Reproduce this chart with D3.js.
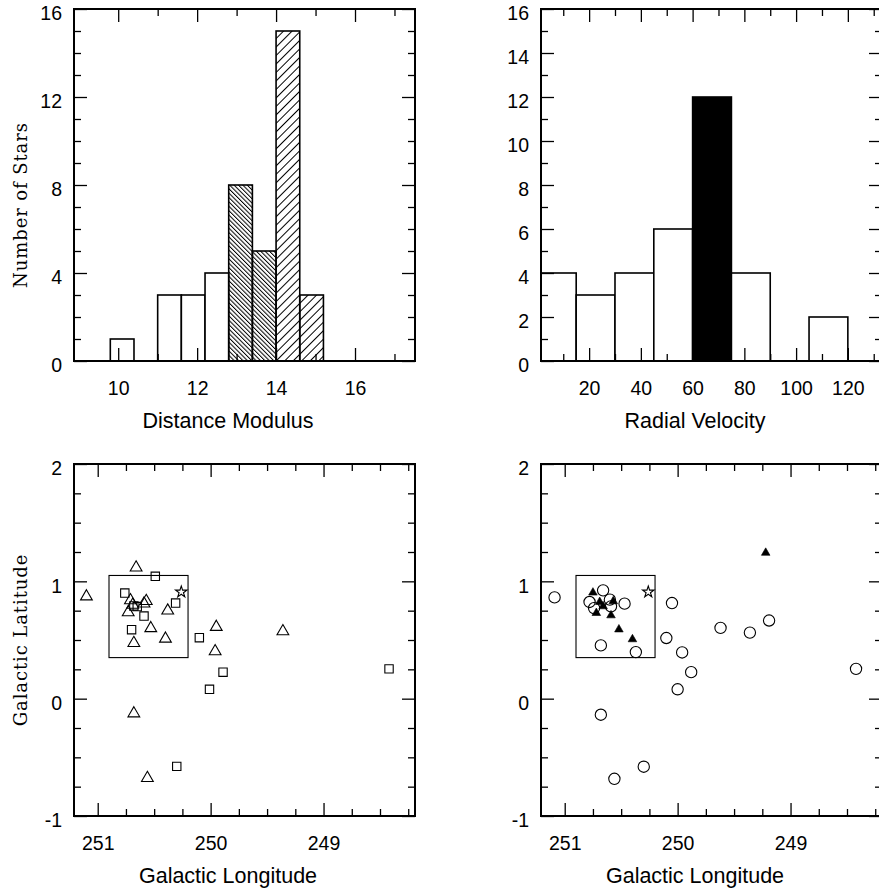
<!DOCTYPE html>
<html>
<head>
<meta charset="utf-8">
<script src="https://cdn.jsdelivr.net/npm/d3@7"></script>
<style>
  body { margin: 0; background: #fff; }
  svg { display: block; }
  .tick text { font-family: "Liberation Sans", Arial, sans-serif; font-size: 19.5px; fill: #000; }
  .tick line { stroke: #000; stroke-width: 1.3; }
  .title { font-family: "Liberation Sans", Arial, sans-serif; font-size: 21.5px; fill: #000; }
  .ytitle { font-family: "DejaVu Serif", serif; font-size: 18px; letter-spacing: 0.9px; fill: #000; }
</style>
</head>
<body>
<svg width="879" height="891"></svg>
<script>
// distance modulus histogram (bin start, count, fill style)
const distStart = [9.8, 11.0, 11.6, 12.2, 12.8, 13.4, 14.0, 14.6];
const distCount = [1, 3, 3, 4, 8, 5, 15, 3];
const distFill  = ["open", "open", "open", "open", "back", "back", "fwd", "fwd"];
const distWidth = 0.6;

// radial velocity histogram
const velStart = [0, 15, 30, 45, 60, 75, 90, 105];
const velCount = [4, 3, 4, 6, 12, 4, 0, 2];
const velFill  = ["open", "open", "open", "open", "solid", "open", "open", "open"];
const velWidth = 15;

// tick labels
const distTicks = [10, 12, 14, 16];
const velTicks = [20, 40, 60, 80, 100, 120];
const lonTicks = [251, 250, 249];
const latTicks = [-1, 0, 1, 2];

// left map: open triangles and squares
const triLon = [251.10, 250.66, 250.71, 250.73, 250.69, 250.57, 250.59, 250.38, 250.53, 250.40, 250.68, 249.95, 249.96, 249.36, 250.68, 250.56];
const triLat = [0.871, 1.117, 0.838, 0.735, 0.80, 0.832, 0.81, 0.75, 0.60, 0.511, 0.474, 0.611, 0.403, 0.574, -0.126, -0.677];
const sqLon = [250.49, 250.76, 250.68, 250.65, 250.59, 250.70, 250.31, 250.10, 249.89, 250.01, 250.30, 248.42];
const sqLat = [1.043, 0.90, 0.79, 0.785, 0.704, 0.588, 0.815, 0.52, 0.226, 0.08, -0.577, 0.254];

// right map: open circles and filled triangles
const circLon = [251.09, 250.66, 250.78, 250.74, 250.60, 250.59, 250.47, 250.68, 250.37, 250.05, 250.10, 249.96, 249.88, 250.00, 249.62, 249.36, 249.19, 248.42, 250.68, 250.56, 250.30];
const circLat = [0.863, 0.923, 0.824, 0.772, 0.844, 0.787, 0.81, 0.454, 0.397, 0.815, 0.517, 0.394, 0.226, 0.08, 0.603, 0.563, 0.666, 0.254, -0.137, -0.683, -0.58];
const ftriLon = [250.75, 250.69, 250.72, 250.66, 250.57, 250.59, 250.52, 250.40, 249.22];
const ftriLat = [0.904, 0.824, 0.73, 0.787, 0.83, 0.71, 0.59, 0.506, 1.243];

// star and the cluster box
const starLon = [250.26];
const starLat = [0.909];
const boxLon = [250.9, 250.2];
const boxLat = [0.35, 1.05];

const svg = d3.select("svg");

const defs = svg.append("defs");
function hatch(id, gap, angle) {
  defs.append("pattern")
      .attr("id", id)
      .attr("patternUnits", "userSpaceOnUse")
      .attr("width", gap).attr("height", gap)
      .attr("patternTransform", `rotate(${angle})`)
    .append("line")
      .attr("x1", 0.5).attr("y1", -1).attr("x2", 0.5).attr("y2", gap + 1)
      .attr("stroke", "#000").attr("stroke-width", 1);
}
hatch("back", 3.1, -45);
hatch("fwd", 6, 45);
const fills = { open: "#fff", solid: "#000", back: "url(#back)", fwd: "url(#fwd)" };

function range(a, b, step) {
  const out = [];
  for (let v = a; v <= b + 1e-9; v += step) out.push(+v.toFixed(4));
  return out;
}

function frame(x, y, o) {
  const [x0, x1] = x.range(), [yb, yt] = y.range();
  const g = svg.append("g");
  const major = 13, minor = 7;

  const axes = [
    [d3.axisBottom, `translate(0,${yb})`, x, o.xMajor, o.xMinor, true],
    [d3.axisTop, `translate(0,${yt})`, x, o.xMajor, o.xMinor, false],
    [d3.axisLeft, `translate(${x0},0)`, y, o.yMajor, o.yMinor, true],
    [d3.axisRight, `translate(${x1},0)`, y, o.yMajor, o.yMinor, false]
  ];
  axes.forEach(([fn, tr, sc, maj, min, lab]) => {
    const isX = fn === d3.axisBottom || fn === d3.axisTop;
    g.append("g").attr("transform", tr)
      .call(fn(sc).tickValues(min).tickSize(-minor).tickFormat(""))
      .call(a => a.select(".domain").remove());
    const ax = g.append("g").attr("transform", tr)
      .call(fn(sc).tickValues(maj).tickSize(-major)
        .tickPadding(isX ? 20 : 12)
        .tickFormat(lab ? d => String(d) : ""))
      .call(a => a.select(".domain").remove());
    if (!isX && lab) ax.selectAll("text").attr("dy", "0.55em");
  });

  g.append("rect")
    .attr("x", x0).attr("y", yt)
    .attr("width", x1 - x0).attr("height", yb - yt)
    .attr("fill", "none").attr("stroke", "#000").attr("stroke-width", 2);

  svg.append("text").attr("class", "title")
    .attr("x", x0 + 154).attr("y", yb + 67)
    .attr("text-anchor", "middle")
    .text(o.xTitle);

  if (o.yTitle) {
    svg.append("text").attr("class", "ytitle")
      .attr("transform", `translate(27,${o.yTitleY}) rotate(-90)`)
      .attr("text-anchor", "middle")
      .text(o.yTitle);
  }
}

function bars(x, y, starts, counts, styles, width) {
  const lo = x.domain()[0];
  svg.append("g").selectAll("rect")
    .data(starts.map((s, i) => ({ s, c: counts[i], f: styles[i] })).filter(d => d.c > 0))
    .join("rect")
      .attr("x", d => x(Math.max(d.s, lo)))
      .attr("width", d => x(d.s + width) - x(Math.max(d.s, lo)))
      .attr("y", d => y(d.c))
      .attr("height", d => y(0) - y(d.c))
      .attr("fill", d => fills[d.f])
      .attr("stroke", "#000")
      .attr("stroke-width", 1.6);
}

function points(x, y, lons, lats, type, size, filled) {
  svg.append("g").selectAll("path")
    .data(lons.map((l, i) => [l, lats[i]]))
    .join("path")
      .attr("transform", d => `translate(${x(d[0])},${y(d[1])})`)
      .attr("d", d3.symbol().type(type).size(size))
      .attr("fill", filled ? "#000" : "none")
      .attr("stroke", "#000")
      .attr("stroke-width", filled ? 0.6 : 1.1);
}

function box(x, y) {
  svg.append("rect")
    .attr("x", x(boxLon[0])).attr("y", y(boxLat[1]))
    .attr("width", x(boxLon[1]) - x(boxLon[0]))
    .attr("height", y(boxLat[0]) - y(boxLat[1]))
    .attr("fill", "none").attr("stroke", "#000").attr("stroke-width", 1.1);
}

const histY = d3.scaleLinear().domain([0, 16]).range([361, 9]);

// top left: distance modulus
const xDist = d3.scaleLinear().domain([8.88, 17.52]).range([74, 415]);
bars(xDist, histY, distStart, distCount, distFill, distWidth);
frame(xDist, histY, {
  xMajor: distTicks, xMinor: [11, 13, 15, 17],
  yMajor: range(0, 16, 4), yMinor: range(1, 15, 1).filter(v => v % 4),
  xTitle: "Distance Modulus", yTitle: "Number of Stars", yTitleY: 205
});

// top right: radial velocity
const xVel = d3.scaleLinear().domain([1.4, 133.2]).range([541, 882]);
bars(xVel, histY, velStart, velCount, velFill, velWidth);
frame(xVel, histY, {
  xMajor: velTicks, xMinor: range(10, 130, 20),
  yMajor: range(0, 16, 2), yMinor: range(1, 15, 2),
  xTitle: "Radial Velocity"
});

const mapY = d3.scaleLinear().domain([-1, 2]).range([816, 464]);
const lonMinor = range(248.25, 251, 0.25).filter(v => v % 1);
const latMinor = range(-0.75, 1.75, 0.25).filter(v => v % 1);

// bottom left map
const xL = d3.scaleLinear().domain([251.21, 248.19]).range([74, 415]);
frame(xL, mapY, {
  xMajor: lonTicks, xMinor: lonMinor, yMajor: latTicks, yMinor: latMinor,
  xTitle: "Galactic Longitude", yTitle: "Galactic Latitude", yTitleY: 640
});
box(xL, mapY);
points(xL, mapY, triLon, triLat, d3.symbolTriangle, 60, false);
points(xL, mapY, sqLon, sqLat, d3.symbolSquare, 70, false);
points(xL, mapY, starLon, starLat, d3.symbolStar, 40, false);

// bottom right map
const xR = d3.scaleLinear().domain([251.21, 248.19]).range([541, 882]);
frame(xR, mapY, {
  xMajor: lonTicks, xMinor: lonMinor, yMajor: latTicks, yMinor: latMinor,
  xTitle: "Galactic Longitude"
});
box(xR, mapY);
points(xR, mapY, circLon, circLat, d3.symbolCircle, 100, false);
points(xR, mapY, ftriLon, ftriLat, d3.symbolTriangle, 32, true);
points(xR, mapY, starLon, starLat, d3.symbolStar, 40, false);
</script>
</body>
</html>
